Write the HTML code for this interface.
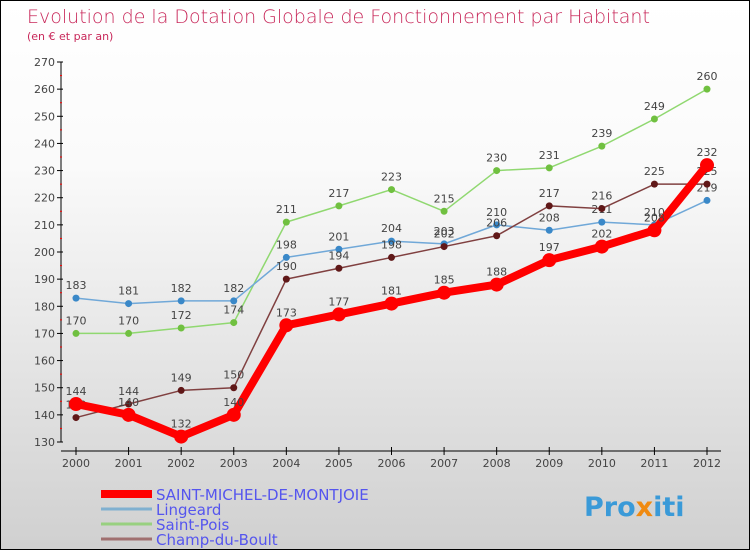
<!DOCTYPE html>
<html><head><meta charset="utf-8"><style>
body{margin:0}
#c{width:750px;height:550px;position:relative;overflow:hidden;box-sizing:border-box;border:1px solid #000;background:linear-gradient(#fff,#fafafa 30%,#d0d0d0);font-family:"DejaVu Sans","Liberation Sans",sans-serif}
</style></head><body>
<div id="c">
<svg id="s" width="750" height="550" style="position:absolute;left:0;top:0">
<text x="26" y="22" font-size="19" fill="#c8285a" font-family="DejaVu Sans,sans-serif" font-weight="200" style="font-weight:300">Evolution de la Dotation Globale de Fonctionnement par Habitant</text>
<text x="26" y="39" font-size="11" fill="#c8285a">(en € et par an)</text>
<g id="axes"></g><g id="series"></g><g id="legend"></g>
<text x="583" y="515" font-size="27" font-weight="bold" fill="#3a9ad8">Pro<tspan fill="#f08a10">x</tspan>iti</text>
</svg>
</div>
<script>
const years=[2000,2001,2002,2003,2004,2005,2006,2007,2008,2009,2010,2011,2012];
const yTicks=[130,140,150,160,170,180,190,200,210,220,230,240,250,260,270];
const smm=[144,140,132,140,173,177,181,185,188,197,202,208,232];
const lingeard=[183,181,182,182,198,201,204,203,210,208,211,210,219];
const saintPois=[170,170,172,174,211,217,223,215,230,231,239,249,260];
const champ=[139,144,149,150,190,194,198,202,206,217,216,225,225];
const NS='http://www.w3.org/2000/svg';
const X=i=>75+i*(706-75)/(years.length-1);
const Y=v=>441-(v-130)*380/140;
function el(t,a,p){const e=document.createElementNS(NS,t);for(const k in a)e.setAttribute(k,a[k]);p.appendChild(e);return e;}
const ax=document.getElementById('axes');
let l=el('line',{x1:60,y1:Y(270),x2:60,y2:Y(130),stroke:'#000'},ax);


l=el('line',{x1:60,y1:450,x2:720,y2:450,stroke:'#000'},ax);


yTicks.forEach(v=>{
 el('line',{x1:56,y1:Y(v),x2:62,y2:Y(v),stroke:'#000'},ax);
 if(v<270)el('line',{x1:59,y1:Y(v+5),x2:61,y2:Y(v+5),stroke:'#f00'},ax);
 const t=el('text',{x:54,y:Y(v)+4,'font-size':11,fill:'#444','text-anchor':'end'},ax);t.textContent=v;
 
 
});
years.forEach((y,i)=>{
 el('line',{x1:X(i),y1:446,x2:X(i),y2:454,stroke:'#000'},ax);
 const t=el('text',{x:X(i),y:466,'font-size':11,fill:'#444','text-anchor':'middle'},ax);t.textContent=y;
 
 
});
const S=document.getElementById('series');
function series(d,color,w,r,name,dot){
 const g=el('g',{},S);
 
 
 el('polyline',{points:d.map((v,i)=>X(i)+','+Y(v)).join(' '),fill:'none',stroke:color,'stroke-width':w,'stroke-linejoin':'round'},g);
 d.forEach((v,i)=>{
  const c=el('circle',{cx:X(i),cy:Y(v),r:r,fill:dot},g);
  
  
  const t=el('text',{x:X(i),y:Y(v)-9,'font-size':11,fill:'#444','text-anchor':'middle'},g);t.textContent=v;
  
  
 });
}
series(saintPois,'#90d870',1.5,3.5,'saint-pois-series','#70c040');
series(lingeard,'#70a8d8',1.5,3.5,'lingeard-series','#3a88c8');
series(champ,'#804040',1.5,3.5,'champ-du-boult-series','#601818');
series(smm,'#f00',8,7,'saint-michel-series','#f00');
const L=document.getElementById('legend');
[['SAINT-MICHEL-DE-MONTJOIE','#f00',8],['Lingeard','#80b0d0',3],['Saint-Pois','#98d080',3],['Champ-du-Boult','#a07070',3]].forEach((e,i)=>{
 const y=493+i*15;
 const g=el('g',{},L);
 
 
 el('line',{x1:100,y1:y,x2:151,y2:y,stroke:e[1],'stroke-width':e[2]},g);
 const t=el('text',{x:155,y:y+6,'font-size':15,fill:'#5555ee'},g);t.textContent=e[0];
});
</script>
</body></html>
